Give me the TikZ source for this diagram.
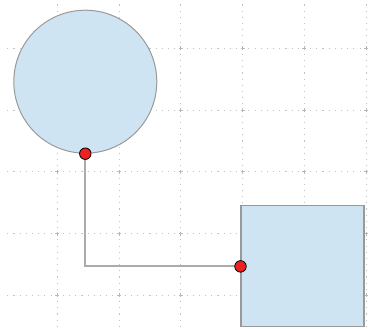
\documentclass[tikz,border=0pt]{standalone}
\begin{document}
\begin{tikzpicture}[x=1pt,y=-1pt,
  gridline/.style={draw=black!24,line width=1.1pt,dash pattern=on 1.1pt off 5.08pt},
  gridcross/.style={draw=black!28,line width=0.8pt},
  shapecircle/.style={circle,draw=black!40,line width=1pt,minimum size=143pt,inner sep=0pt},
  shapebox/.style={rectangle,draw=black!40,line width=1.2pt,minimum width=123pt,minimum height=121pt,inner sep=0pt},
  conn/.style={draw=black!33,line width=2pt},
  marker/.style={circle,draw=black,line width=0.8pt,fill=markerred,minimum size=11.5pt,inner sep=0pt}]
\definecolor{shapefill}{RGB}{207,228,242}
\definecolor{markerred}{RGB}{236,34,34}
\useasboundingbox (0,0) rectangle (368,329);
\foreach \y in {48.3,110.1,171.9,233.7,295.5}
  \draw[gridline] (7.31,\y) -- (368,\y);
\foreach \x in {57.3,119.1,180.9,242.7,304.5,366.3}
  \draw[gridline] (\x,4.49) -- (\x,329);
\foreach \x in {57.3,119.1,180.9,242.7,304.5,366.3}
  \foreach \y in {48.3,110.1,171.9,233.7,295.5}
    \draw[gridcross] (\x-2,\y) -- (\x+2,\y) (\x,\y-2) -- (\x,\y+2);
\node[shapecircle,fill=shapefill] (c) at (85.3,81.7) {};
\node[shapebox,fill=shapefill] (r) at (302.6,266.4) {};
\draw[conn] (c.south) |- (r.west);
\node[marker] (m1) at (c.south) {};
\node[marker] (m2) at (r.west) {};
\end{tikzpicture}
\end{document}
